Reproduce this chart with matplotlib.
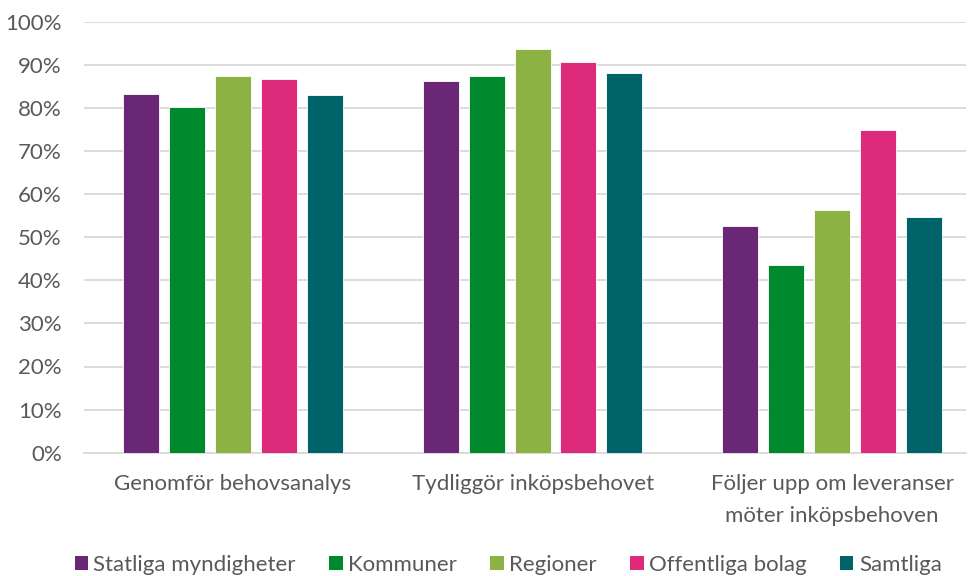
import matplotlib
matplotlib.use("Agg")
import matplotlib.pyplot as plt
import numpy as np
from matplotlib.patches import Patch

categories = ["Genomför behovsanalys", "Tydliggör inköpsbehovet",
              "Följer upp om leveranser\nmöter inköpsbehoven"]
series_names = ["Statliga myndigheter", "Kommuner", "Regioner", "Offentliga bolag", "Samtliga"]
statliga = [83.2, 86.3, 52.6]
kommuner = [80.3, 87.5, 43.5]
regioner = [87.5, 93.7, 56.4]
offentliga = [86.8, 90.7, 74.9]
samtliga = [83.0, 88.2, 54.7]
series_values = [statliga, kommuner, regioner, offentliga, samtliga]
colors = ["#6A2776", "#00892C", "#8CB243", "#DE2A7B", "#00636A"]
yticks = [0, 10, 20, 30, 40, 50, 60, 70, 80, 90, 100]
ytick_labels = [f"{v}%" for v in yticks]

plt.rcParams['font.family'] = ['Lato', 'DejaVu Sans']
text_color = "#595959"
fs = 16

W, H = 968, 576
fig = plt.figure(figsize=(W / 100, H / 100), dpi=100)
ax = fig.add_axes([84 / W, 1 - 452.7 / H, (966 - 84) / W, (452.7 - 21.7) / H])

x = np.arange(len(categories))
slot = 0.153
bw = 0.12
for i, (vals, c) in enumerate(zip(series_values, colors)):
    ax.bar(x + (i - 2) * slot, vals, width=bw, color=c, edgecolor="white",
           linewidth=0.6, zorder=3, label=series_names[i])

ax.set_xlim(-0.4975, 2.447)
ax.set_ylim(0, 100)
ax.set_yticks(yticks)
ax.set_yticklabels(ytick_labels, color=text_color, fontsize=fs)
ax.set_xticks(x)
ax.set_xticklabels(categories, color=text_color, fontsize=fs, linespacing=1.75)
ax.tick_params(axis='both', length=0)
ax.tick_params(axis='x', pad=15)
ax.tick_params(axis='y', pad=16)
ax.grid(axis='y', color="#D9D9D9", linewidth=1.3, zorder=0)
for s in ["top", "right", "left"]:
    ax.spines[s].set_visible(False)
ax.spines["bottom"].set_color("#D9D9D9")
ax.spines["bottom"].set_linewidth(1.3)

handles = [Patch(facecolor=c, edgecolor="none") for c in colors]
leg = fig.legend(handles, series_names, loc="center", bbox_to_anchor=(0.525, 1 - 565 / H),
                 ncol=5, frameon=False, fontsize=fs, handlelength=0.6, handleheight=0.6,
                 handletextpad=0.25, columnspacing=1.5, borderpad=0)
for t in leg.get_texts():
    t.set_color(text_color)

fig.savefig("out.png", dpi=100)
